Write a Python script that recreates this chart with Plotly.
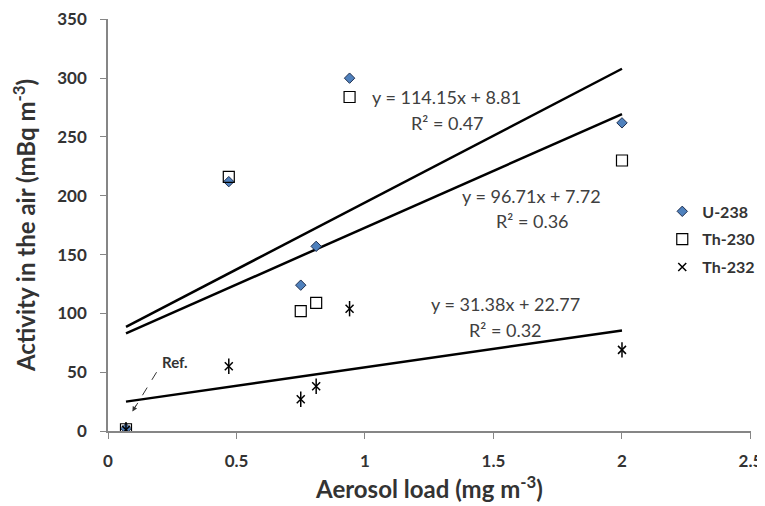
import plotly.graph_objects as go

aerosol = [0.07, 0.47, 0.75, 0.81, 0.94, 2.0]
u238 = [2, 212, 124, 157, 300, 262]
th230 = [1.5, 216, 102, 109, 284, 230]
th232 = [1, 55, 27, 38, 104, 69]

trend_x = [0.07, 2.0]
trend_u238 = [88.5, 308]
trend_th230 = [83, 269.5]
trend_th232 = [24.97, 85.5]

x_ticks = [0, 0.5, 1, 1.5, 2, 2.5]
x_tick_labels = ["0", "0.5", "1", "1.5", "2", "2.5"]
y_ticks = [0, 50, 100, 150, 200, 250, 300, 350]
y_tick_labels = ["0", "50", "100", "150", "200", "250", "300", "350"]

eq_lines = ["y = 114.15x + 8.81", "R² = 0.47",
            "y = 96.71x + 7.72", "R² = 0.36",
            "y = 31.38x + 22.77", "R² = 0.32"]
eq_x = [1.317, 1.321, 1.648, 1.65, 1.546, 1.546]
eq_y = [284, 262, 199.5, 178.3, 108.4, 86.3]

FONT = "Lato"
TXT = "#333333"
AX = "#868686"
fig = go.Figure()

for ty in [trend_u238, trend_th230, trend_th232]:
    fig.add_trace(go.Scatter(x=trend_x, y=ty, mode="lines",
                             line=dict(color="black", width=2.5),
                             showlegend=False, hoverinfo="skip"))

fig.add_trace(go.Scatter(x=aerosol, y=u238, mode="markers", name="U-238", legendgroup="a",
                         marker=dict(symbol="diamond", size=8, color="#4F81BD",
                                     line=dict(color="#1F2F4F", width=1))))
fig.add_trace(go.Scatter(x=aerosol, y=th230, mode="markers", name="Th-230", legendgroup="b",
                         marker=dict(symbol="square", size=11, color="rgba(255,255,255,0)",
                                     line=dict(color="black", width=1.2))))
fig.add_trace(go.Scatter(x=aerosol, y=th232, mode="markers", name="Th-232", legendgroup="c",
                         marker=dict(symbol="x-thin-open", size=8, color="black",
                                     line=dict(color="black", width=1.5))))
fig.add_trace(go.Scatter(x=aerosol, y=th232, mode="markers", showlegend=False, legendgroup="c",
                         marker=dict(symbol="line-ns-open", size=11, color="black",
                                     line=dict(color="black", width=1.5))))

annotations = []
for t, x, y in zip(eq_lines, eq_x, eq_y):
    annotations.append(dict(x=x, y=y, xref="x", yref="y", text=t, showarrow=False,
                            font=dict(family=FONT, size=18, color="#404040"),
                            xanchor="center", yanchor="middle"))
annotations.append(dict(x=0.095, y=16.5, xref="x", yref="y", ax=0.112, ay=23,
                        axref="x", ayref="y", text="", showarrow=True,
                        arrowhead=2, arrowsize=1, arrowwidth=1, arrowcolor=TXT))
annotations.append(dict(x=0.259, y=58.3, xref="x", yref="y", text="<b>Ref.</b>",
                        showarrow=False, font=dict(family=FONT, size=15, color=TXT)))

shapes = [dict(type="line", xref="x", yref="y", x0=0.189, y0=50, x1=0.105, y1=20,
               line=dict(color=TXT, width=1, dash="dash"))]

fig.update_layout(
    width=775, height=498,
    margin=dict(l=100, r=32, t=11, b=75),
    plot_bgcolor="white", paper_bgcolor="white",
    font=dict(family=FONT, color=TXT),
    annotations=annotations, shapes=shapes,
    legend=dict(x=0.862, y=0.465, xanchor="left", yanchor="middle",
                traceorder="grouped",
                font=dict(family=FONT, size=16, color=TXT, weight="bold"),
                bgcolor="rgba(0,0,0,0)", itemwidth=30, tracegroupgap=4),
    xaxis=dict(range=[0, 2.502], tickmode="array", tickvals=x_ticks, ticktext=x_tick_labels,
               showgrid=False, zeroline=False,
               showline=True, linecolor=AX, linewidth=1.5, automargin=False,
               ticks="outside", ticklen=6, tickcolor=AX, ticklabelstandoff=8,
               tickfont=dict(family=FONT, size=17, color=TXT, weight="bold"),
               title=dict(text="<b>Aerosol load (mg m<sup>-3</sup>)</b>",
                          font=dict(family=FONT, size=24, color=TXT), standoff=9)),
    yaxis=dict(range=[0, 350.3], tickmode="array", tickvals=y_ticks, ticktext=y_tick_labels,
               showgrid=False, zeroline=False,
               showline=True, linecolor=AX, linewidth=1.5, automargin=False,
               ticks="outside", ticklen=6, tickcolor=AX, ticklabelstandoff=10,
               tickfont=dict(family=FONT, size=17, color=TXT, weight="bold"),
               title=dict(text="<b>Activity in the air (mBq m<sup>-3</sup>)</b>",
                          font=dict(family=FONT, size=24, color=TXT), standoff=21)),
)

fig.write_html("out.html")
